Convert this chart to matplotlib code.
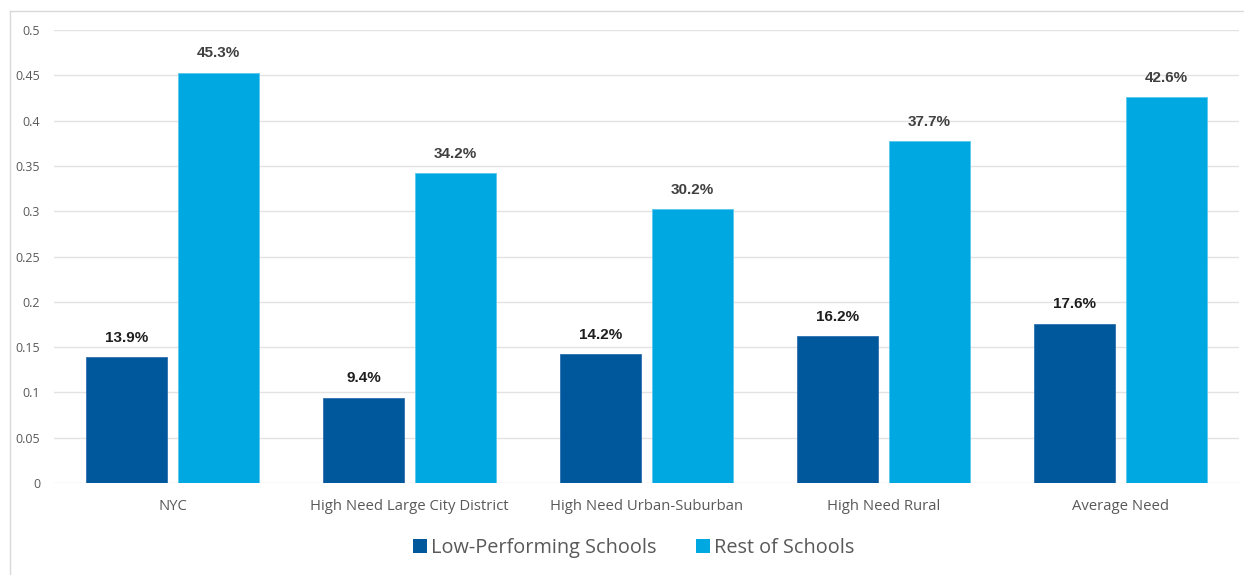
import matplotlib
matplotlib.use("Agg")
import matplotlib.pyplot as plt
import numpy as np
from matplotlib.patches import Patch
from matplotlib.lines import Line2D

categories = ["NYC", "High Need Large City District", "High Need Urban-Suburban",
              "High Need Rural", "Average Need"]
low_performing = [0.139, 0.094, 0.142, 0.162, 0.176]
rest_of_schools = [0.453, 0.342, 0.302, 0.377, 0.426]
series_names = ["Low-Performing Schools", "Rest of Schools"]
y_ticks = [0, 0.05, 0.1, 0.15, 0.2, 0.25, 0.3, 0.35, 0.4, 0.45, 0.5]
y_tick_labels = ["0", "0.05", "0.1", "0.15", "0.2", "0.25", "0.3", "0.35", "0.4", "0.45", "0.5"]

dark_blue = "#00589C"
light_blue = "#00A8E2"
tick_gray = "#595959"

W, H = 1244, 575
fig = plt.figure(figsize=(W / 100, H / 100), dpi=100)
fig.patch.set_facecolor("white")

# outer chart frame (top and left edges)
fig.add_artist(Line2D([10 / W, 1243 / W], [1 - 11 / H, 1 - 11 / H],
                      color="#d9d9d9", lw=1.0, transform=fig.transFigure))
fig.add_artist(Line2D([10 / W, 10 / W], [0, 1 - 11 / H],
                      color="#d9d9d9", lw=1.0, transform=fig.transFigure))

left, right, top, bottom = 54, 1239, 30, 483
ax = fig.add_axes([left / W, 1 - bottom / H, (right - left) / W, (bottom - top) / H])

x = np.arange(len(categories))
bar_w = 0.342
offset = 0.194
bars_low = ax.bar(x - offset, low_performing, bar_w, color=dark_blue,
                  edgecolor="#2f6fae", linewidth=0.6, zorder=3, label=series_names[0])
bars_rest = ax.bar(x + offset, rest_of_schools, bar_w, color=light_blue,
                   edgecolor="#5cc6ee", linewidth=0.6, zorder=3, label=series_names[1])

for rect, v in zip(bars_low, low_performing):
    ax.annotate(f"{v * 100:.1f}%", (rect.get_x() + rect.get_width() / 2, v),
                xytext=(0, 9), textcoords="offset points", ha="center", va="bottom",
                fontsize=11, fontweight="bold", family="Liberation Sans", color="#1e1e1e")
for rect, v in zip(bars_rest, rest_of_schools):
    ax.annotate(f"{v * 100:.1f}%", (rect.get_x() + rect.get_width() / 2, v),
                xytext=(0, 9), textcoords="offset points", ha="center", va="bottom",
                fontsize=11, fontweight="bold", family="Liberation Sans", color="#404040")

ax.set_xlim(-0.5, len(categories) - 0.5)
ax.set_ylim(0, 0.5)
ax.set_yticks(y_ticks)
ax.set_yticklabels(y_tick_labels, family="Open Sans", fontsize=9, color=tick_gray)
ax.set_xticks(x)
ax.set_xticklabels(categories, family="Open Sans", fontsize=10.7, color=tick_gray)
ax.tick_params(axis="y", length=0, pad=10)
ax.tick_params(axis="x", length=0, pad=11.5)
ax.grid(axis="y", color="#e3e3e3", linewidth=1.0, zorder=0)
for s in ax.spines.values():
    s.set_visible(False)
ax.set_axisbelow(True)

handles = [Patch(facecolor=dark_blue, edgecolor="none"),
           Patch(facecolor=light_blue, edgecolor="none")]
leg = fig.legend(handles, series_names, loc="center", ncol=2,
                 bbox_to_anchor=(634 / W, 1 - 548 / H), frameon=False,
                 prop={"family": "Open Sans", "size": 14.3},
                 handlelength=0.7, handleheight=0.7, handletextpad=0.2,
                 columnspacing=2.0)
for t in leg.get_texts():
    t.set_color(tick_gray)

fig.savefig("out.png", dpi=100, facecolor="white")
